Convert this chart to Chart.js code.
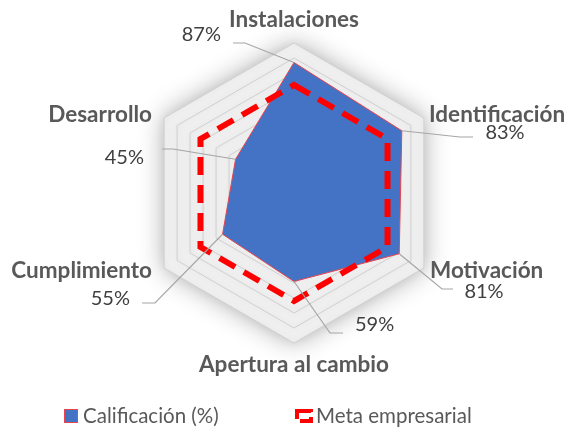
<!DOCTYPE html>
<html>
<head>
<meta charset="utf-8">
<script src="https://cdn.jsdelivr.net/npm/chart.js@4/dist/chart.umd.min.js"></script>
<style>
  html, body { margin: 0; padding: 0; background: #ffffff; }
  #wrap { width: 566px; height: 429px; position: relative; }
</style>
</head>
<body>
<div id="wrap"><canvas id="c" width="566" height="429"></canvas></div>
<script>
const categories = ['Instalaciones', 'Identificación', 'Motivación', 'Apertura al cambio', 'Cumplimiento', 'Desarrollo'];
const calificacion = [87, 83, 81, 59, 55, 45];
const metaEmpresarial = [72, 72, 72, 72, 72, 72];
const seriesNames = ['Calificación (%)', 'Meta empresarial'];
const scaleTicks = { min: 0, max: 100, step: 10 };

const FONT = 'Lato, "Open Sans", sans-serif';

// label layout: offsets relative to the scale centre (in px), per category
const catLayout = [
  { dx: 0,    dy: -173, align: 'center' },
  { dx: 135,  dy: -78,  align: 'left' },
  { dx: 136,  dy: 78,   align: 'left' },
  { dx: 0,    dy: 172,  align: 'center' },
  { dx: -142, dy: 78,   align: 'right' },
  { dx: -142, dy: -78,  align: 'right' }
];
const valLayout = [
  { dx: -73,  dy: -158, align: 'right',  leader: [[-49, -150], [-61, -150]] },
  { dx: 211,  dy: -60,  align: 'center', leader: [[166, -56], [179, -56]] },
  { dx: 190,  dy: 99,   align: 'center', leader: [[148, 96], [159, 96]] },
  { dx: 61,   dy: 132,  align: 'left',   leader: [[36, 140], [49, 140]] },
  { dx: -164, dy: 106,  align: 'right',  leader: [[-139, 110], [-152, 110]] },
  { dx: -150, dy: -35,  align: 'right',  leader: [[-121, -44], [-132, -44]] }
];

const glowPlugin = {
  id: 'glow',
  beforeDraw(chart) {
    const ctx = chart.ctx;
    const r = chart.scales.r;
    const n = categories.length;
    ctx.save();
    // soft halo behind the outer ring
    ctx.beginPath();
    for (let i = 0; i < n; i++) {
      const p = r.getPointPosition(i, r.getDistanceFromCenterForValue(scaleTicks.max));
      if (i === 0) ctx.moveTo(p.x, p.y); else ctx.lineTo(p.x, p.y);
    }
    ctx.closePath();
    ctx.shadowColor = 'rgba(0,0,0,0.32)';
    ctx.shadowBlur = 26;
    ctx.fillStyle = '#f2f2f2';
    ctx.fill();
    ctx.restore();
    ctx.save();
    ctx.shadowColor = 'rgba(0,0,0,0.26)';
    ctx.shadowBlur = 8;
  },
  beforeDatasetsDraw(chart) {
    chart.ctx.restore();
  }
};

const labelPlugin = {
  id: 'labels',
  afterDatasetsDraw(chart) {
    const ctx = chart.ctx;
    const r = chart.scales.r;
    const cx = r.xCenter, cy = r.yCenter;
    ctx.save();
    // leader lines
    ctx.strokeStyle = '#a6a6a6';
    ctx.lineWidth = 1.2;
    calificacion.forEach((v, i) => {
      const p = r.getPointPosition(i, r.getDistanceFromCenterForValue(v));
      const L = valLayout[i].leader;
      ctx.beginPath();
      ctx.moveTo(p.x, p.y);
      L.forEach(pt => ctx.lineTo(cx + pt[0], cy + pt[1]));
      ctx.stroke();
    });
    // category labels
    ctx.textBaseline = 'middle';
    ctx.fillStyle = '#595959';
    ctx.font = 'bold 22.5px ' + FONT;
    categories.forEach((c, i) => {
      ctx.textAlign = catLayout[i].align;
      ctx.fillText(c, cx + catLayout[i].dx, cy + catLayout[i].dy);
    });
    // value labels
    ctx.fillStyle = '#404040';
    ctx.font = '20px ' + FONT;
    calificacion.forEach((v, i) => {
      ctx.textAlign = valLayout[i].align;
      ctx.fillText(v + '%', cx + valLayout[i].dx, cy + valLayout[i].dy);
    });
    ctx.restore();
  },
  afterDraw(chart) {
    // legend
    const ctx = chart.ctx;
    const ds = chart.data.datasets;
    ctx.save();
    ctx.textBaseline = 'middle';
    ctx.textAlign = 'left';
    ctx.font = '20.5px ' + FONT;
    const y = 416;
    // item 1
    ctx.fillStyle = ds[0].backgroundColor;
    ctx.fillRect(64.5, 409.5, 13, 13);
    ctx.strokeStyle = ds[0].borderColor;
    ctx.lineWidth = 1;
    ctx.strokeRect(64.5, 409.5, 13, 13);
    ctx.fillStyle = '#595959';
    ctx.fillText(ds[0].label, 83, y);
    // item 2
    ctx.strokeStyle = ds[1].borderColor;
    ctx.lineWidth = 4;
    ctx.setLineDash([15, 5]);
    ctx.beginPath();
    ctx.rect(297, 411, 14, 10);
    ctx.stroke();
    ctx.setLineDash([]);
    ctx.fillStyle = '#595959';
    ctx.fillText(ds[1].label, 316, y);
    ctx.restore();
  }
};

new Chart(document.getElementById('c'), {
  type: 'radar',
  data: {
    labels: categories,
    datasets: [
      {
        label: seriesNames[0],
        data: calificacion,
        backgroundColor: '#4472C4',
        borderColor: '#e8454f',
        borderWidth: 1,
        pointRadius: 0,
        fill: true,
        order: 1
      },
      {
        label: seriesNames[1],
        data: metaEmpresarial,
        backgroundColor: 'rgba(0,0,0,0)',
        borderColor: '#ff0000',
        borderWidth: 6,
        borderDash: [18, 10],
        borderCapStyle: 'butt',
        borderJoinStyle: 'miter',
        pointRadius: 0,
        fill: false,
        order: 0
      }
    ]
  },
  options: {
    responsive: false,
    animation: false,
    devicePixelRatio: 1,
    layout: { padding: { left: 144, right: 122, top: 43, bottom: 86 } },
    plugins: {
      legend: { display: false },
      tooltip: { enabled: false },
      title: { display: false }
    },
    elements: { line: { tension: 0 } },
    scales: {
      r: {
        min: scaleTicks.min,
        max: scaleTicks.max,
        ticks: { display: false, stepSize: scaleTicks.step },
        pointLabels: { display: false },
        angleLines: { display: false },
        grid: { color: '#d0d0d0', lineWidth: 1 }
      }
    }
  },
  plugins: [glowPlugin, labelPlugin]
});
</script>
</body>
</html>
